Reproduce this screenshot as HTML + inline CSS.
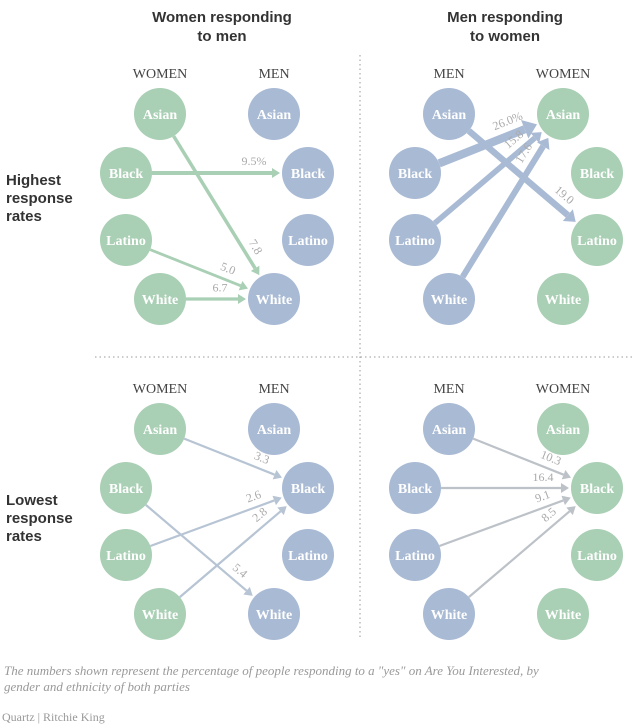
<!DOCTYPE html>
<html><head><meta charset="utf-8"><style>
body{margin:0;background:#fff;}
svg{display:block;font-family:"Liberation Serif",serif;}
.t{font-family:"Liberation Sans",sans-serif;font-weight:bold;font-size:15px;fill:#333;}
</style></head><body>
<svg id="c" width="640" height="726" viewBox="0 0 640 726">
<text class="t" x="222" y="22" text-anchor="middle">Women responding</text>
<text class="t" x="222" y="41" text-anchor="middle">to men</text>
<text class="t" x="505" y="22" text-anchor="middle">Men responding</text>
<text class="t" x="505" y="41" text-anchor="middle">to women</text>
<g><text class="t" x="6" y="185">Highest</text><text class="t" x="6" y="203">response</text><text class="t" x="6" y="221">rates</text></g>
<g><text class="t" x="6" y="505">Lowest</text><text class="t" x="6" y="523">response</text><text class="t" x="6" y="541">rates</text></g>
<line x1="360" y1="55" x2="360" y2="640" stroke="#999" stroke-dasharray="1.5,3"/>
<line x1="95" y1="357" x2="635" y2="357" stroke="#999" stroke-dasharray="1.5,3"/>
<g id="g"></g>
<text x="4" y="675" font-style="italic" font-size="13" fill="#999">The numbers shown represent the percentage of people responding to a "yes" on Are You Interested, by</text>
<text x="4" y="691" font-style="italic" font-size="13" fill="#999">gender and ethnicity of both parties</text>
<text x="2" y="721" font-size="12" fill="#999">Quartz | Ritchie King</text>
</svg>
<script>
const races=["Asian","Black","Latino","White"];
// panels: [fromGroup, fromIdx, toIdx, value, label]
const tlFrom=[0,1,2,3], tlTo=[3,1,3,3], tlVals=[7.8,9.5,5.0,6.7], tlLabels=["7.8","9.5%","5.0","6.7"];
const trFrom=[1,2,3,0], trTo=[0,0,0,2], trVals=[26.0,15.8,17.6,19.0], trLabels=["26.0%","15.8","17.6","19.0"];
const blFrom=[0,1,2,3], blTo=[1,3,1,1], blVals=[3.3,5.4,2.6,2.8], blLabels=["3.3","5.4","2.6","2.8"];
const brFrom=[0,1,2,3], brTo=[1,1,1,1], brVals=[10.3,16.4,9.1,8.5], brLabels=["10.3","16.4","9.1","8.5"];
const G="#a9cfb4",B="#a9bad4";
const NS="http://www.w3.org/2000/svg";
const g=document.getElementById('g');
function el(t,a,p){const e=document.createElementNS(NS,t);for(const k in a)e.setAttribute(k,a[k]);(p||g).appendChild(e);return e;}
const R=26;
function colX(left,side,i){ // side 0 = left column, 1 = right column
  const inner=(i===0||i===3);
  if(side===0) return left+(inner?160:126);
  return left+(inner?274:308);
}
function panel(left,top,fromCol,toCol,lab0,lab1,from,to,vals,labels,arrowCol,thick,pname){
  const ys=[0,59,126,185].map(d=>top+d);
  const t0=el('text',{x:left+160,y:top-36,'text-anchor':'middle','font-size':14,fill:'#444'});
  t0.textContent=lab0;
  const t1=el('text',{x:left+274,y:top-36,'text-anchor':'middle','font-size':14,fill:'#444'});
  t1.textContent=lab1;
  races.forEach((r,i)=>{[0,1].forEach(s=>{
    const cx=colX(left,s,i),cy=ys[i];
    const c=el('circle',{cx:cx,cy:cy,r:R,fill:s?toCol:fromCol});
    
    
    const t=el('text',{x:cx,y:cy+5,'text-anchor':'middle','font-size':14,'font-weight':'bold',fill:'#fff'});
    
    
    t.textContent=r;
  });});
  from.forEach((f,k)=>{
    const x1=colX(left,0,f),y1=ys[f],x2=colX(left,1,to[k]),y2=ys[to[k]];
    const dx=x2-x1,dy=y2-y1,L=Math.hypot(dx,dy),ux=dx/L,uy=dy/L;
    const w=thick?1.5+vals[k]*0.26:2.2;
    const hl=thick?Math.max(8,w*1.6):8,hw=thick?Math.max(5,w*1.2):5;
    const sx=x1+ux*R,sy=y1+uy*R,ex=x2-ux*(R+2),ey=y2-uy*(R+2);
    const bx=ex-ux*hl,by=ey-uy*hl;
    const ln=el('line',{x1:sx,y1:sy,x2:bx,y2:by,stroke:arrowCol,'stroke-width':w});
    
    
    const hd=el('polygon',{points:`${ex},${ey} ${bx-uy*hw},${by+ux*hw} ${bx+uy*hw},${by-ux*hw}`,fill:arrowCol});
    
    
    const px=ex-ux*26,py=ey-uy*26;
    let nx=uy,ny=-ux; if(ny>0){nx=-nx;ny=-ny;}
    const off=w/2+6, ang=Math.atan2(dy,dx)*180/Math.PI;
    const lx=px+nx*off,ly=py+ny*off;
    const tx=el('text',{x:lx,y:ly,'text-anchor':'middle','font-size':12,fill:'#aaa',transform:`rotate(${ang} ${lx} ${ly})`});
    
    
    tx.textContent=labels[k];
  });
}
panel(0,114,G,B,"WOMEN","MEN",tlFrom,tlTo,tlVals,tlLabels,"#a9cfb4",true,"top-left");
panel(289,114,B,G,"MEN","WOMEN",trFrom,trTo,trVals,trLabels,"#a9bad4",true,"top-right");
panel(0,429,G,B,"WOMEN","MEN",blFrom,blTo,blVals,blLabels,"#b7c4d4",false,"bottom-left");
panel(289,429,B,G,"MEN","WOMEN",brFrom,brTo,brVals,brLabels,"#bcc2c8",false,"bottom-right");
</script>
</body></html>
